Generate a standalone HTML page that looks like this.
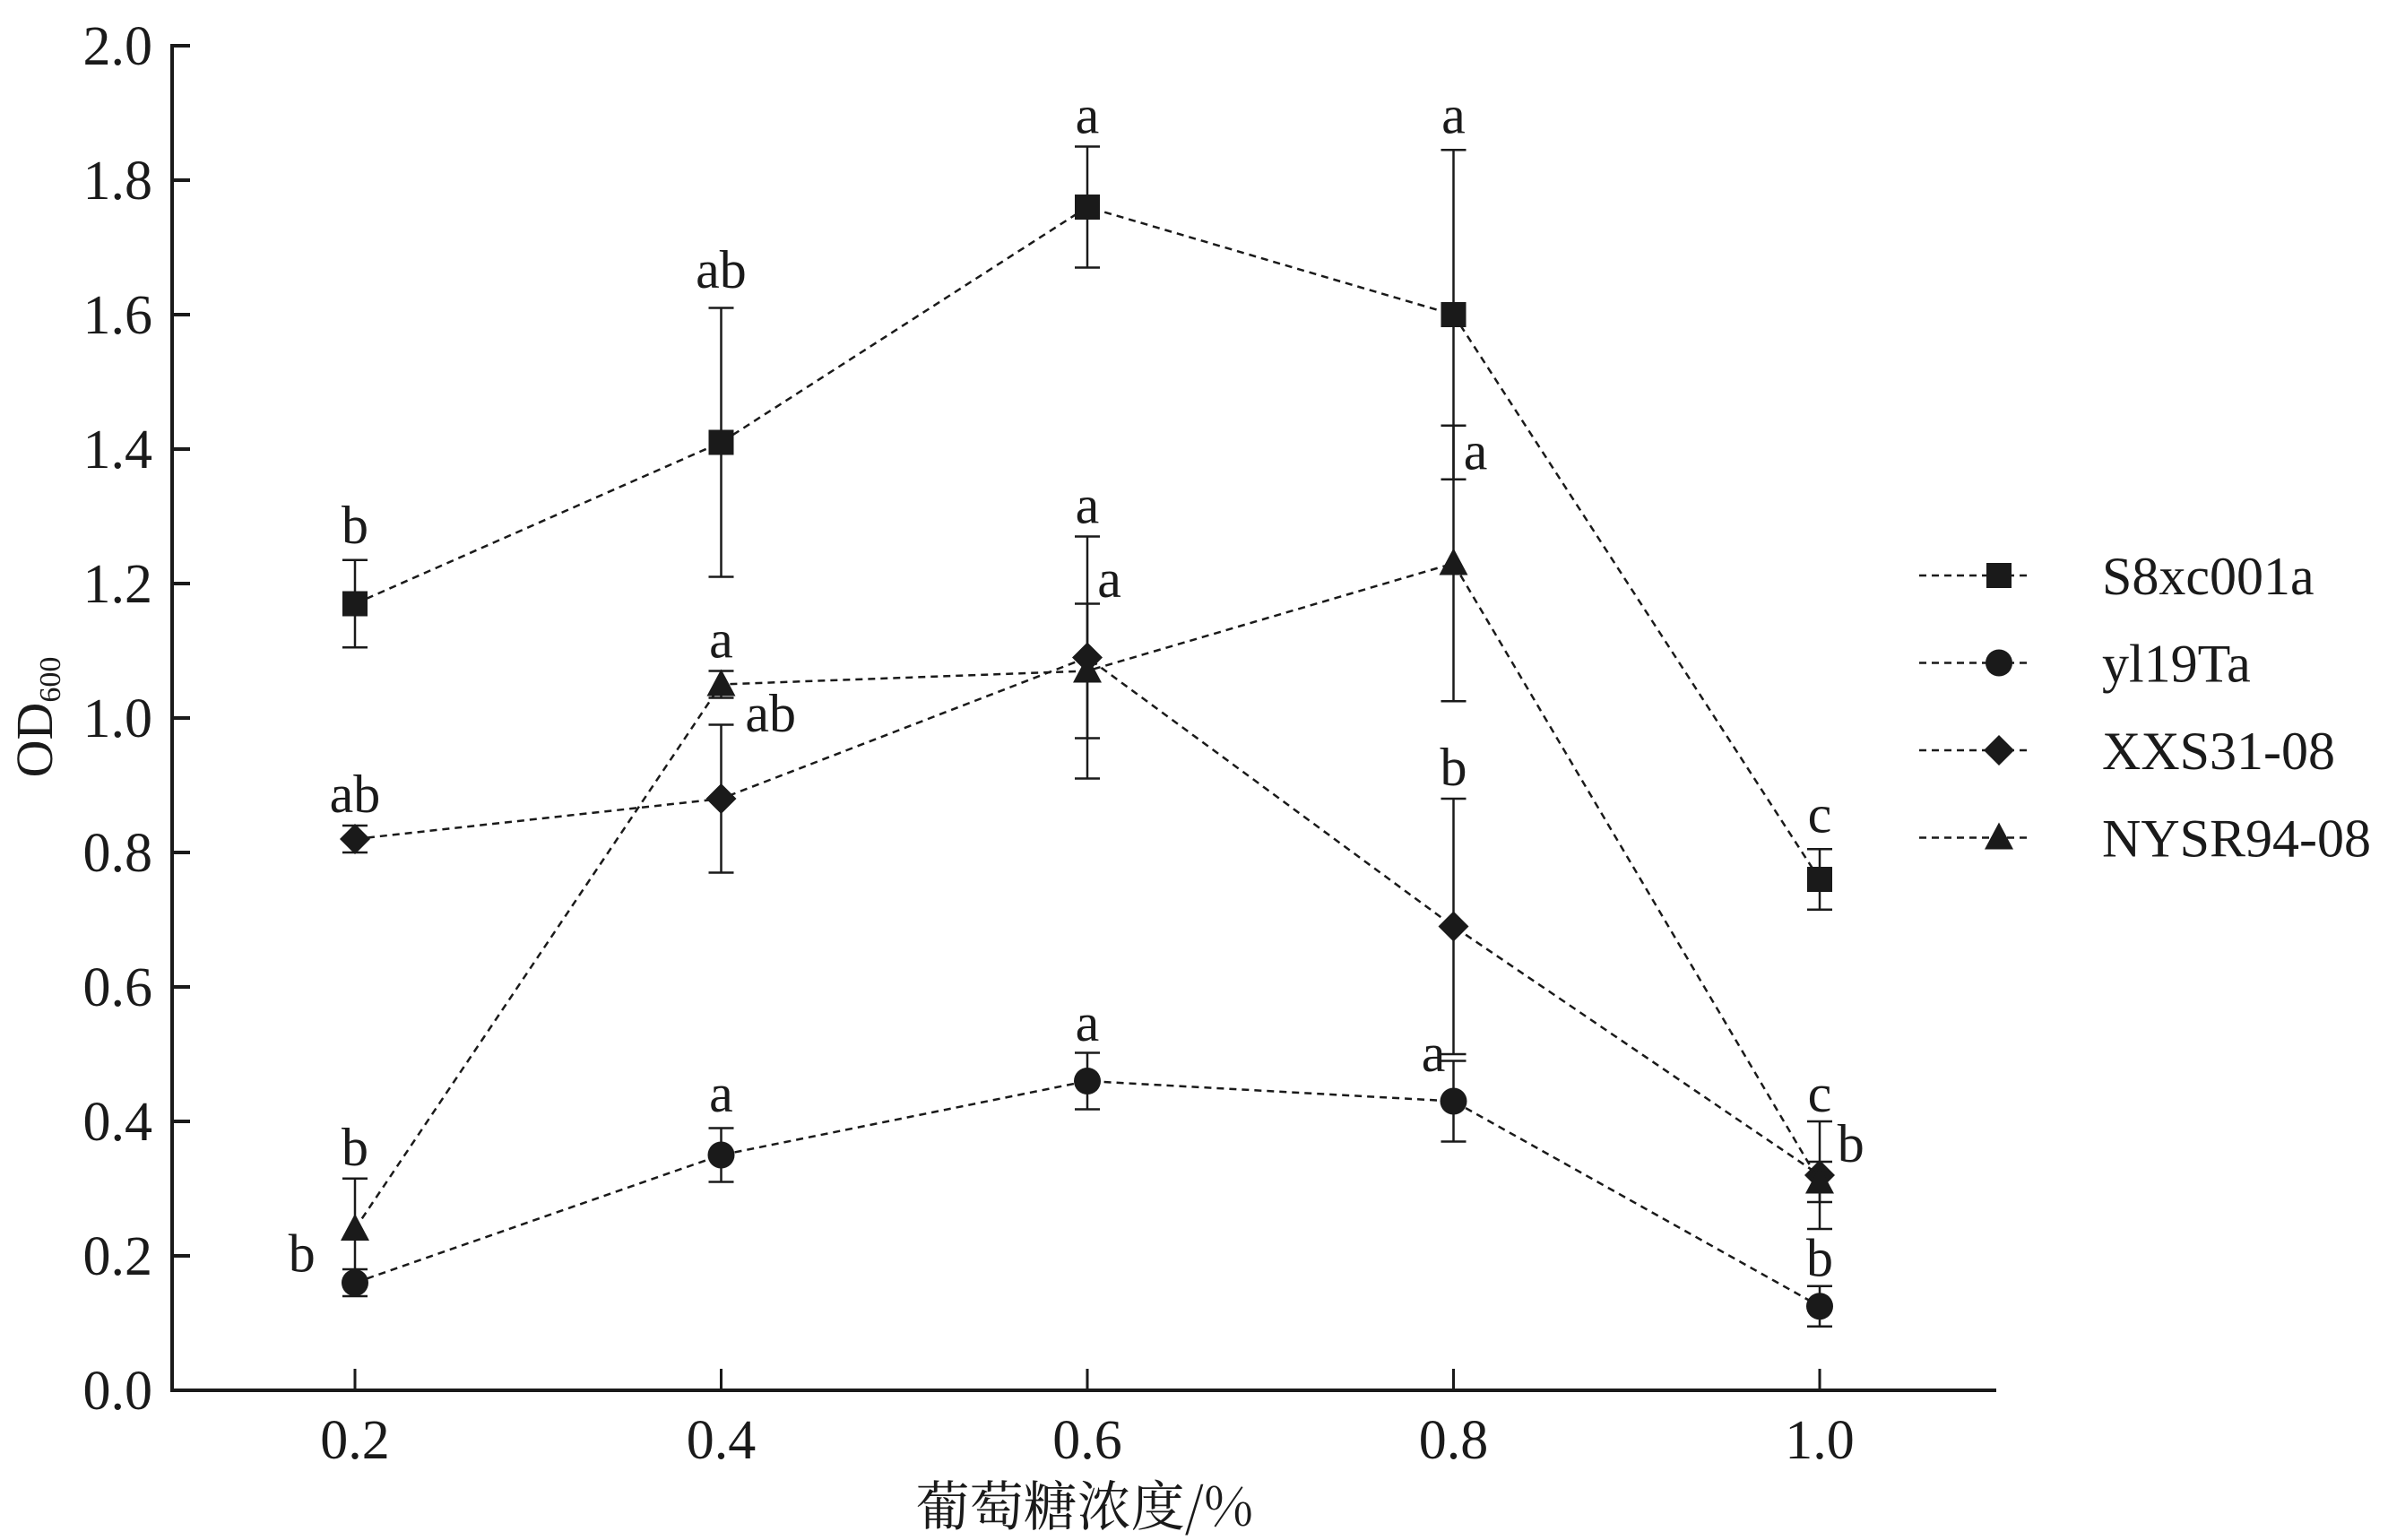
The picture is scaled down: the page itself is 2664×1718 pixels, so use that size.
<!DOCTYPE html>
<html><head><meta charset="utf-8"><style>
html,body{margin:0;padding:0;background:#fff;}
svg{display:block;font-family:"Liberation Serif","Noto Serif CJK SC",serif;}
</style></head><body>
<svg id="chart" width="2664" height="1718" viewBox="0 0 2664 1718" xmlns="http://www.w3.org/2000/svg">
<g id="axes"></g>
<g id="series"></g>
<g id="labels"></g>
<g id="legend"></g>
<text transform="translate(58,800) rotate(-90)" text-anchor="middle" font-size="58" fill="#1a1a1a">OD<tspan font-size="34" dy="9">600</tspan></text>
<text x="1210" y="1702" text-anchor="middle" font-size="60" fill="#1a1a1a" font-family="'Noto Serif CJK SC','Liberation Serif',serif">葡萄糖浓度/%</text>
</svg>
<script>
const xCats=[0.2,0.4,0.6,0.8,1.0];
const yTicks=[0.0,0.2,0.4,0.6,0.8,1.0,1.2,1.4,1.6,1.8,2.0];
const seriesNames=["S8xc001a","yl19Ta","XXS31-08","NYSR94-08"];
const s8Vals=[1.17,1.41,1.76,1.60,0.76];
const s8Err=[0.065,0.20,0.09,0.245,0.045];
const ylVals=[0.16,0.35,0.46,0.43,0.125];
const ylErr=[0.02,0.04,0.042,0.06,0.03];
const xxsVals=[0.82,0.88,1.09,0.69,0.32];
const xxsErr=[0.02,0.11,0.18,0.19,0.08];
const nyVals=[0.24,1.05,1.07,1.23,0.31];
const nyErr=[0.075,0.02,0.10,0.205,0.03];
const letterText=["b","ab","a","a","c","ab","a","ab","a","a","a","b","b","b","a","a","a","c","b","b"];
const letterX=[0.2,0.4,0.6,0.8,1.0,0.2,0.4,0.427,0.6,0.612,0.812,0.8,0.2,0.171,0.4,0.6,0.789,1.0,1.017,1.0];
const letterY=[1.26,1.64,1.87,1.87,0.83,0.86,1.09,0.98,1.29,1.18,1.37,0.90,0.335,0.177,0.415,0.52,0.475,0.415,0.34,0.17];

const NS="http://www.w3.org/2000/svg";
const X0=192,X1=2227,Y0=1551,Y1=51;
function xS(v){return 396+(v-0.2)/0.2*408.5;}
function yS(v){return Y0-(v/2.0)*(Y0-Y1);}
function mk(tag,parent,attrs){const e=document.createElementNS(NS,tag);for(const k in attrs)e.setAttribute(k,attrs[k]);parent.appendChild(e);return e;}
const C="#1a1a1a";
const axes=document.getElementById('axes');
let yl=mk('line',axes,{x1:X0,y1:Y1-2,x2:X0,y2:Y0+2,stroke:C,'stroke-width':4});


let xl=mk('line',axes,{x1:X0-2,y1:Y0,x2:X1,y2:Y0,stroke:C,'stroke-width':4});


yTicks.forEach(v=>{
 const y=yS(v);
 let t=mk('line',axes,{x1:X0,y1:y,x2:X0+20,y2:y,stroke:C,'stroke-width':4});
 
 
 let l=mk('text',axes,{x:X0-22,y:y+21,'text-anchor':'end','font-size':62,fill:C});
 
 
 l.textContent=v.toFixed(1);
});
xCats.forEach(v=>{
 const x=xS(v);
 let t=mk('line',axes,{x1:x,y1:Y0,x2:x,y2:Y0-24,stroke:C,'stroke-width':3});
 
 
 let l=mk('text',axes,{x:x,y:Y0+76,'text-anchor':'middle','font-size':62,fill:C});
 
 
 l.textContent=v.toFixed(1);
});
function marker(g,type,x,y){
 let e;
 if(type==='square')e=mk('rect',g,{x:x-14,y:y-14,width:28,height:28,fill:C});
 else if(type==='circle')e=mk('circle',g,{cx:x,cy:y,r:15,fill:C});
 else if(type==='diamond')e=mk('polygon',g,{points:`${x},${y-17} ${x+17},${y} ${x},${y+17} ${x-17},${y}`,fill:C});
 else e=mk('polygon',g,{points:`${x},${y-17} ${x+16},${y+13} ${x-16},${y+13}`,fill:C});
 return e;
}
const allVals=[s8Vals,ylVals,xxsVals,nyVals];
const allErr=[s8Err,ylErr,xxsErr,nyErr];
const types=['square','circle','diamond','triangle'];
const sg=document.getElementById('series');
allVals.forEach((vals,si)=>{
 const g=mk('g',sg,{});
 
 
 const pts=vals.map((v,i)=>xS(xCats[i])+','+yS(v)).join(' ');
 let pl=mk('polyline',g,{points:pts,fill:'none',stroke:C,'stroke-width':2.5,'stroke-dasharray':'8,6'});
 
 
 vals.forEach((v,i)=>{
  const x=xS(xCats[i]),e=allErr[si][i];
  const eg=mk('g',g,{stroke:C,'stroke-width':2.5});
  
  
  mk('line',eg,{x1:x,y1:yS(v+e),x2:x,y2:yS(v-e)});
  mk('line',eg,{x1:x-14,y1:yS(v+e),x2:x+14,y2:yS(v+e)});
  mk('line',eg,{x1:x-14,y1:yS(v-e),x2:x+14,y2:yS(v-e)});
 });
 vals.forEach((v,i)=>{
  const m=marker(g,types[si],xS(xCats[i]),yS(v));
  
  
 });
});
const lg=document.getElementById('labels');
letterText.forEach((t,i)=>{
 let e=mk('text',lg,{x:xS(letterX[i]),y:yS(letterY[i]),'text-anchor':'middle','font-size':60,fill:C});
 
 
 e.textContent=t;
});
const leg=document.getElementById('legend');
seriesNames.forEach((n,i)=>{
 const y=642+i*97.5;
 const g=mk('g',leg,{});
 
 
 mk('line',g,{x1:2141,y1:y,x2:2262,y2:y,stroke:C,'stroke-width':2.5,'stroke-dasharray':'8,6'});
 marker(g,types[i],2230,y);
 let t=mk('text',g,{x:2345,y:y+21,'font-size':60,fill:C});
 t.textContent=n;
});
</script>
</body></html>
